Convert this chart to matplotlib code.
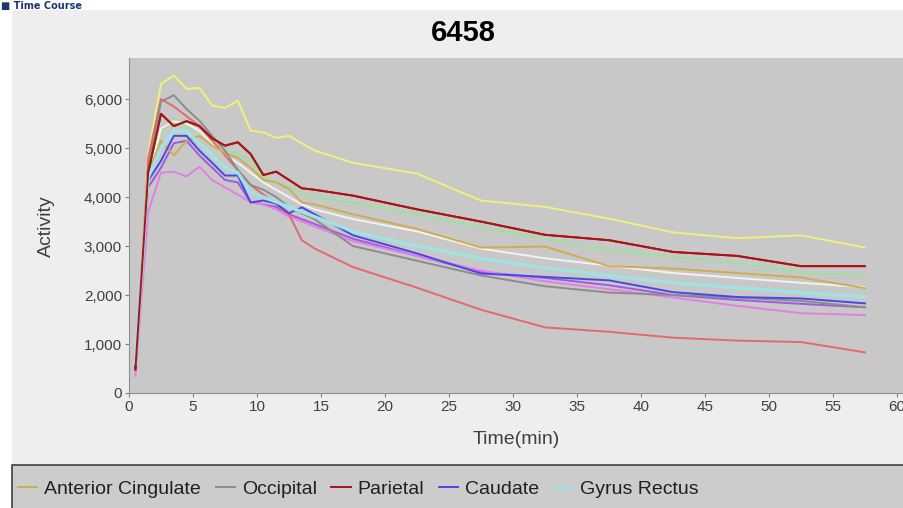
import matplotlib
matplotlib.use('Agg')
import matplotlib.pyplot as plt
from matplotlib.patches import Rectangle
from matplotlib.lines import Line2D
from matplotlib.ticker import FuncFormatter

plt.rcParams['font.family'] = ['Liberation Sans', 'DejaVu Sans']

# frame mid-times (min)
times = [0.5, 1.5, 2.5, 3.5, 4.5, 5.5, 6.5, 7.5, 8.5, 9.5, 10.5, 11.5, 12.5,
         13.5, 14.5, 17.5, 22.5, 27.5, 32.5, 37.5, 42.5, 47.5, 52.5, 57.5]

anterior = [650, 4500, 5150, 4850, 5150, 5250, 5050, 4900, 4800, 4600, 4350, 4300,
            4170, 3890, 3850, 3650, 3350, 2970, 2990, 2590, 2540, 2450, 2360, 2140]
occipital = [550, 4600, 5950, 6080, 5800, 5560, 5250, 4950, 4550, 4250, 4150, 4000,
             3800, 3670, 3550, 3000, 2700, 2400, 2180, 2050, 2000, 1950, 1880, 1750]
parietal = [480, 4500, 5700, 5450, 5550, 5450, 5200, 5050, 5120, 4880, 4450, 4520,
            4350, 4180, 4150, 4030, 3750, 3500, 3230, 3120, 2880, 2800, 2590, 2590]
caudate = [520, 4340, 4740, 5250, 5250, 4950, 4700, 4440, 4440, 3890, 3930, 3870,
           3670, 3790, 3650, 3220, 2850, 2440, 2370, 2300, 2060, 1960, 1930, 1830]
gyrus = [600, 4400, 5000, 5350, 5350, 5100, 4850, 4600, 4500, 4100, 4000, 3900,
         3800, 3700, 3600, 3300, 3000, 2750, 2550, 2400, 2250, 2150, 2050, 1960]
# regions whose legend entries are cut off
yellow = [500, 4900, 6310, 6480, 6210, 6230, 5870, 5820, 5970, 5360, 5320, 5210,
          5250, 5100, 4950, 4700, 4480, 3930, 3800, 3560, 3280, 3160, 3220, 2970]
green = [600, 4300, 5300, 5600, 5450, 5350, 5200, 4950, 4900, 4750, 4400, 4300,
         4200, 4100, 4000, 3880, 3650, 3380, 3150, 2910, 2780, 2650, 2460, 2400]
white = [600, 4400, 5400, 5550, 5500, 5350, 5100, 4850, 4700, 4500, 4300, 4150,
         4000, 3850, 3750, 3550, 3300, 2950, 2750, 2600, 2450, 2350, 2250, 2160]
purple = [500, 4200, 4600, 5100, 5150, 4850, 4600, 4350, 4300, 3900, 3850, 3800,
          3650, 3550, 3450, 3150, 2800, 2470, 2350, 2200, 2000, 1900, 1820, 1750]
pink = [350, 3700, 4500, 4520, 4420, 4620, 4350, 4200, 4050, 3900, 3850, 3750,
        3600, 3500, 3400, 3100, 2800, 2500, 2280, 2120, 1950, 1780, 1630, 1590]
salmon = [500, 4800, 6000, 5850, 5650, 5450, 5150, 4850, 4550, 4250, 4050, 3850,
          3650, 3120, 2950, 2570, 2150, 1700, 1340, 1250, 1130, 1070, 1040, 830]

legend_names = ['Anterior Cingulate', 'Occipital', 'Parietal', 'Caudate', 'Gyrus Rectus']
legend_series = [anterior, occipital, parietal, caudate, gyrus]
legend_colours = ['#d0ac50', '#8c8c8c', '#a81414', '#4848e8', '#9fe3e3']
other_series = [yellow, green, white, purple, pink, salmon]
other_colours = ['#f2f07a', '#9fe09f', '#f2f2f2', '#a05ae0', '#e47ee4', '#e46a6a']

fig = plt.figure(figsize=(9.04, 5.08), dpi=100, facecolor='white')

# panel background and heading strip
fig.patches.append(Rectangle((12 / 904, 0), 1, 1 - 10 / 508, transform=fig.transFigure,
                             facecolor='#eeeeee', edgecolor='none', zorder=-10))
fig.text(1 / 904, 1 - 1 / 508, '\u25a0 Time Course', color='#1e3570', fontsize=7,
         fontweight='bold', ha='left', va='top', family=['DejaVu Sans'])

ax = fig.add_axes([129 / 904, 1 - 393 / 508, 1 - 129 / 904, 335 / 508])
ax.set_facecolor('#c8c8c8')

for vals, col in zip(other_series, other_colours):
    ax.plot(times, vals, color=col, lw=1.4)
for vals, col, name in zip(legend_series, legend_colours, legend_names):
    ax.plot(times, vals, color=col, lw=2.4 if name == 'Gyrus Rectus' else 1.4, label=name)
# keep the dark parietal trace on top
ax.plot(times, parietal, color=legend_colours[2], lw=1.4)

ax.set_xlim(0, 60.55)
ax.set_ylim(0, 6840)
ax.set_xticks(range(0, 61, 5))
ax.set_yticks(range(0, 6001, 1000))
ax.yaxis.set_major_formatter(FuncFormatter(lambda v, p: f'{int(v):,}'))
ax.tick_params(direction='out', length=3, width=0.8, color='#808080',
               labelsize=11, labelcolor='#404040', pad=2)
for side in ['top', 'right']:
    ax.spines[side].set_visible(False)
for side in ['left', 'bottom']:
    ax.spines[side].set_color('#909090')
    ax.spines[side].set_linewidth(0.8)

fig.text(516 / 904, 1 - 440 / 508, 'Time(min)', fontsize=14, color='#404040',
         ha='center', va='center')
fig.text(46 / 904, 1 - 226 / 508, 'Activity', fontsize=14, color='#404040',
         ha='center', va='center', rotation=90)
fig.text(463 / 904, 1 - 33 / 508, '6458', fontsize=21, fontweight='bold',
         ha='center', va='center')

# legend strip (extends past the right edge)
fig.patches.append(Rectangle((12 / 904, -0.05), 1, 0.05 + 1 - 465 / 508,
                             transform=fig.transFigure, facecolor='#cccccc',
                             edgecolor='#404040', lw=1.2, zorder=-5))
handles = [Line2D([], [], color=c, lw=1.4) for c in legend_colours]
fig.legend(handles, legend_names, loc='center left', ncol=5,
           bbox_to_anchor=(18 / 904, 1 - 489 / 508), frameon=False, fontsize=14,
           borderpad=0, borderaxespad=0, handlelength=1.0, handletextpad=0.35,
           columnspacing=0.75, labelcolor='#202020')

fig.savefig('out.png', dpi=100, facecolor=fig.get_facecolor())
